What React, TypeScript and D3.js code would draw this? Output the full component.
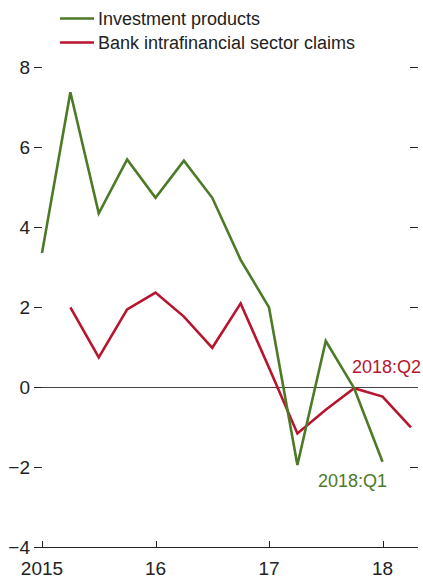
import { useRef, useEffect } from "react";
import * as d3 from "d3";

const quarters = [
  "2015Q1", "2015Q2", "2015Q3", "2015Q4",
  "2016Q1", "2016Q2", "2016Q3", "2016Q4",
  "2017Q1", "2017Q2", "2017Q3", "2017Q4",
  "2018Q1", "2018Q2",
];
const investmentProducts = [3.35, 7.37, 4.34, 5.69, 4.73, 5.66, 4.73, 3.18, 1.99, -1.95, 1.15, -0.03, -1.87, null];
const bankClaims = [null, 1.99, 0.74, 1.94, 2.36, 1.76, 0.98, 2.09, 0.48, -1.16, -0.57, -0.03, -0.24, -1.01];
const yTicks = [8, 6, 4, 2, 0, -2, -4];
const xTickLabels = ["2015", "16", "17", "18"];

const GREEN = "#4d7a26";
const RED = "#b7142e";
const FONT = "'Liberation Sans', Arial, sans-serif";

function App() {
  const svgRef = useRef<SVGSVGElement>(null);

  useEffect(() => {
    if (!svgRef.current) return;
    const svg = d3.select(svgRef.current);
    svg.selectAll("*").remove();

    const x = d3.scaleLinear().domain([0, quarters.length - 0.75]).range([42, 418]);
    const y = d3.scaleLinear().domain([-4, 8]).range([547, 67]);

    // left ticks + labels, right ticks
    yTicks.forEach((t) => {
      svg.append("line")
        .attr("x1", 34).attr("x2", 42)
        .attr("y1", y(t) + 0.5).attr("y2", y(t) + 0.5)
        .attr("stroke", "#222").attr("stroke-width", 1);
      svg.append("text")
        .attr("x", 30).attr("y", y(t)).attr("dy", "0.36em")
        .attr("text-anchor", "end")
        .attr("font-family", FONT).attr("font-size", 19)
        .attr("fill", "#222")
        .text(t < 0 ? `\u2212${Math.abs(t)}` : `${t}`);
      if (t !== 0 && t !== -4) {
        svg.append("line")
          .attr("x1", 410).attr("x2", 418)
          .attr("y1", y(t) + 0.5).attr("y2", y(t) + 0.5)
          .attr("stroke", "#222").attr("stroke-width", 1);
      }
    });

    // zero line
    svg.append("line")
      .attr("x1", 42).attr("x2", 418)
      .attr("y1", y(0) + 0.5).attr("y2", y(0) + 0.5)
      .attr("stroke", "#444").attr("stroke-width", 1);

    // x axis
    svg.append("line")
      .attr("x1", 42).attr("x2", 418)
      .attr("y1", y(-4) + 0.5).attr("y2", y(-4) + 0.5)
      .attr("stroke", "#222").attr("stroke-width", 1);

    xTickLabels.forEach((lab, i) => {
      const xp = Math.round(x(i * 4)) + 0.5;
      svg.append("line")
        .attr("x1", xp).attr("x2", xp)
        .attr("y1", y(-4) - 6).attr("y2", y(-4))
        .attr("stroke", "#222").attr("stroke-width", 1);
      svg.append("text")
        .attr("x", x(i * 4)).attr("y", 575)
        .attr("text-anchor", "middle")
        .attr("font-family", FONT).attr("font-size", 19)
        .attr("fill", "#222")
        .text(lab);
    });

    const line = d3.line<number | null>()
      .defined((d) => d !== null)
      .x((_, i) => x(i))
      .y((d) => y(d as number));

    svg.append("path")
      .datum(bankClaims)
      .attr("fill", "none").attr("stroke", RED).attr("stroke-width", 2.6)
      .attr("d", line);

    svg.append("path")
      .datum(investmentProducts)
      .attr("fill", "none").attr("stroke", GREEN).attr("stroke-width", 2.6)
      .attr("d", line);

    // annotations
    svg.append("text")
      .attr("x", 421).attr("y", 373)
      .attr("text-anchor", "end")
      .attr("font-family", FONT).attr("font-size", 18)
      .attr("fill", RED)
      .text("2018:Q2");
    svg.append("text")
      .attr("x", 387).attr("y", 487)
      .attr("text-anchor", "end")
      .attr("font-family", FONT).attr("font-size", 18)
      .attr("fill", GREEN)
      .text("2018:Q1");

    // legend
    const legend = [
      { label: "Investment products", color: GREEN },
      { label: "Bank intrafinancial sector claims", color: RED },
    ];
    legend.forEach((l, i) => {
      const ly = 18.5 + i * 24;
      svg.append("line")
        .attr("x1", 60).attr("x2", 94)
        .attr("y1", ly).attr("y2", ly)
        .attr("stroke", l.color).attr("stroke-width", 2.6);
      svg.append("text")
        .attr("x", 98).attr("y", ly).attr("dy", "0.36em")
        .attr("font-family", FONT).attr("font-size", 18)
        .attr("fill", "#222")
        .text(l.label);
    });
  }, []);

  return (
    <svg
      ref={svgRef}
      width={423}
      height={578}
      style={{ position: "absolute", left: 0, top: 0, background: "#fff" }}
    />
  );
}

export default App;
